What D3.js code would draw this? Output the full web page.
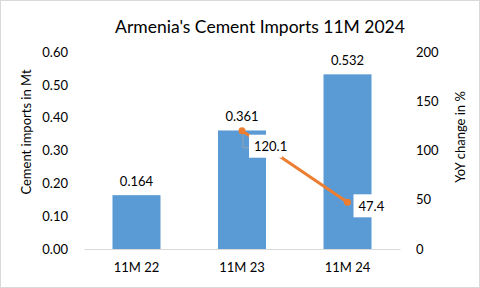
<!DOCTYPE html>
<html lang="en">

<head>
  <title>Armenia's Cement Imports</title>
  <script src="https://cdn.jsdelivr.net/npm/d3@7"></script>
  <style>
    body { margin: 0; background: #fff; }
    text { font-family: Lato, "Open Sans", sans-serif; fill: #000; }
  </style>
</head>

<body>
  <script>
    var categories = ["11M 22", "11M 23", "11M 24"];
    var imports = [0.164, 0.361, 0.532];
    var yoyCats = ["11M 23", "11M 24"];
    var yoy = [120.1, 47.4];
    var leftTicks = [0, 0.1, 0.2, 0.3, 0.4, 0.5, 0.6];
    var rightTicks = [0, 50, 100, 150, 200];

    var w = 480;
    var h = 288;
    var margin = { top: 52, left: 84, right: 80, bottom: 39 };
    var width = w - margin.left - margin.right;
    var height = h - margin.top - margin.bottom;

    var x = d3.scaleBand()
      .domain(categories)
      .range([0, width])
      .paddingInner(0.545)
      .paddingOuter(0.27);
    var y = d3.scaleLinear().domain([0, 0.6]).range([height, 0]);
    var y2 = d3.scaleLinear().domain([0, 200]).range([height, 0]);

    var svg = d3.select("body").append("svg")
      .attr("width", w)
      .attr("height", h);

    svg.append("rect")
      .attr("x", 0.5).attr("y", 0.5)
      .attr("width", w - 1).attr("height", h - 1)
      .attr("fill", "#fff")
      .attr("stroke", "#d9d9d9");

    svg.append("text")
      .attr("x", 260).attr("y", 33)
      .attr("text-anchor", "middle")
      .style("font-size", "17.5px")
      .text("Armenia's Cement  Imports 11M 2024");

    var g = svg.append("g")
      .attr("transform", "translate(" + margin.left + "," + margin.top + ")");

    // left axis
    var leftAxis = g.append("g")
      .call(d3.axisLeft(y).tickValues(leftTicks).tickFormat(d3.format(".2f")).tickSize(0).tickPadding(16));
    leftAxis.select(".domain").remove();
    leftAxis.selectAll("text").style("font-size", "13px").style("font-family", "Lato, sans-serif");

    // right axis
    var rightAxis = g.append("g")
      .attr("transform", "translate(" + width + ",0)")
      .call(d3.axisRight(y2).tickValues(rightTicks).tickSize(0).tickPadding(16));
    rightAxis.select(".domain").remove();
    rightAxis.selectAll("text").style("font-size", "13px").style("font-family", "Lato, sans-serif");

    // bottom axis
    var bottomAxis = g.append("g")
      .attr("transform", "translate(0," + height + ")")
      .call(d3.axisBottom(x).tickSize(0).tickPadding(14));
    bottomAxis.select(".domain").attr("stroke", "#d9d9d9");
    bottomAxis.selectAll("text").style("font-size", "13px").style("font-family", "Lato, sans-serif");

    // bars
    g.selectAll(".bar")
      .data(imports)
      .enter()
      .append("rect")
      .attr("x", function (d, i) { return x(categories[i]); })
      .attr("y", function (d) { return y(d); })
      .attr("width", x.bandwidth())
      .attr("height", function (d) { return height - y(d); })
      .attr("fill", "#5b9bd5");

    g.selectAll(".bar-label")
      .data(imports)
      .enter()
      .append("text")
      .attr("x", function (d, i) { return x(categories[i]) + x.bandwidth() / 2; })
      .attr("y", function (d) { return y(d) - 9; })
      .attr("text-anchor", "middle")
      .style("font-size", "13px")
      .text(function (d) { return d3.format(".3f")(d); });

    // yoy line
    var cx = function (d, i) { return x(yoyCats[i]) + x.bandwidth() / 2; };
    var line = d3.line()
      .x(function (d, i) { return cx(d, i); })
      .y(function (d) { return y2(d); });

    // leader line for first label
    var p0x = cx(yoy[0], 0), p0y = y2(yoy[0]);
    g.append("path")
      .attr("d", "M" + (p0x + 1) + "," + p0y + "V" + (p0y + 17) + "H" + (p0x + 8))
      .attr("fill", "none")
      .attr("stroke", "#a6a6a6")
      .attr("stroke-width", 0.75);

    g.append("path")
      .datum(yoy)
      .attr("d", line)
      .attr("fill", "none")
      .attr("stroke", "#ed7d31")
      .attr("stroke-width", 3);

    g.selectAll(".dot")
      .data(yoy)
      .enter()
      .append("circle")
      .attr("cx", cx)
      .attr("cy", function (d) { return y2(d); })
      .attr("r", 3.5)
      .attr("fill", "#ed7d31");

    var offs = [{ dx: 7, dy: 4 }, { dx: 6, dy: -8 }];
    var yl = g.selectAll(".yoy-label")
      .data(yoy)
      .enter()
      .append("g")
      .attr("transform", function (d, i) {
        return "translate(" + (cx(d, i) + offs[i].dx) + "," + (y2(d) + offs[i].dy) + ")";
      });
    yl.append("rect")
      .attr("width", 33).attr("height", 23)
      .attr("fill", "#fff");
    yl.append("text")
      .attr("x", 5).attr("y", 16.5)
      .style("font-size", "13px")
      .text(function (d) { return d3.format(".1f")(d); });

    // axis titles
    svg.append("text")
      .attr("transform", "translate(31,132) rotate(-90)")
      .attr("text-anchor", "middle")
      .style("font-size", "13px")
      .text("Cement imports in Mt");
    svg.append("text")
      .attr("transform", "translate(465,137) rotate(-90)")
      .attr("text-anchor", "middle")
      .style("font-size", "13px")
      .text("YoY change in %");
  </script>
</body>

</html>
